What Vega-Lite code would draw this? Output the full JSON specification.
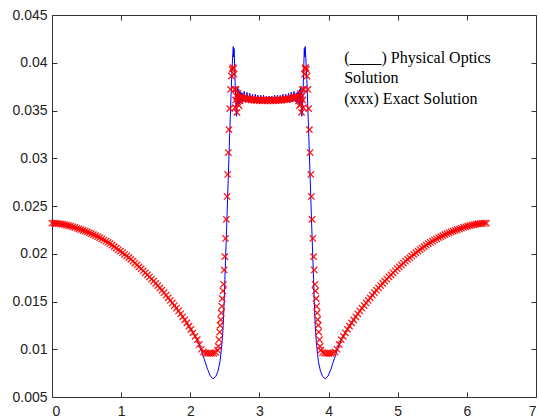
{
"$schema": "https://vega.github.io/schema/vega-lite/v6.json",
"width": 484, "height": 382,
"autosize": {"type": "none"},
"padding": {"left": 52, "top": 15, "right": 3, "bottom": 21},
"background": "white",
"config": {"view": {"stroke": null}, "axis": {"grid": false, "domainColor": "#333", "tickColor": "#333", "labelColor": "#222", "labelFont": "Liberation Sans", "labelFontSize": 14, "domainWidth": 1, "tickWidth": 1}},
"datasets": {
"po": [
{"x":0,"y":0.0232},{"x":0.1,"y":0.02315},{"x":0.2,"y":0.02302},{"x":0.3,"y":0.02282},{"x":0.4,"y":0.02257},{"x":0.5,"y":0.02232},{"x":0.6,"y":0.022},{"x":0.7,"y":0.02165},{"x":0.8,"y":0.02123},{"x":0.9,"y":0.02075},{"x":1.0,"y":0.02022},{"x":1.1,"y":0.01965},{"x":1.2,"y":0.01903},{"x":1.3,"y":0.01836},{"x":1.4,"y":0.01765},{"x":1.5,"y":0.0169},{"x":1.6,"y":0.0161},{"x":1.7,"y":0.0152},{"x":1.8,"y":0.0143},{"x":1.9,"y":0.0133},{"x":2.0,"y":0.0122},{"x":2.05,"y":0.0116},{"x":2.1,"y":0.011},{"x":2.15,"y":0.0101},{"x":2.2,"y":0.009},{"x":2.25,"y":0.0079},{"x":2.29,"y":0.0072},{"x":2.33,"y":0.0069},{"x":2.37,"y":0.00715},{"x":2.4,"y":0.0077},{"x":2.43,"y":0.0087},{"x":2.45,"y":0.01},{"x":2.465,"y":0.0112},{"x":2.476,"y":0.0125},{"x":2.49,"y":0.015},{"x":2.5,"y":0.0173},{"x":2.525,"y":0.0225},{"x":2.548,"y":0.0277},{"x":2.572,"y":0.033},{"x":2.597,"y":0.0382},{"x":2.612,"y":0.0405},{"x":2.622,"y":0.0417},{"x":2.628,"y":0.0406},{"x":2.634,"y":0.0415},{"x":2.642,"y":0.0395},{"x":2.652,"y":0.037},{"x":2.662,"y":0.035},{"x":2.67,"y":0.0344},{"x":2.678,"y":0.0362},{"x":2.686,"y":0.0374},{"x":2.694,"y":0.0356},{"x":2.702,"y":0.0372},{"x":2.71,"y":0.0357},{"x":2.718,"y":0.037},{"x":2.726,"y":0.0358},{"x":2.734,"y":0.0369},{"x":2.742,"y":0.0359},{"x":2.75,"y":0.0368},
{"x":2.76,"y":0.0359},{"x":2.78,"y":0.037},{"x":2.8,"y":0.0359},{"x":2.82,"y":0.0369},{"x":2.84,"y":0.0358},{"x":2.86,"y":0.0368},{"x":2.88,"y":0.0359},{"x":2.9,"y":0.0367},{"x":2.92,"y":0.0358},{"x":2.94,"y":0.0367},{"x":2.96,"y":0.0359},{"x":2.98,"y":0.0366},{"x":3.0,"y":0.0358},{"x":3.02,"y":0.0366},{"x":3.04,"y":0.0359},{"x":3.06,"y":0.0366},{"x":3.08,"y":0.0358},{"x":3.1,"y":0.0365},{"x":3.12,"y":0.0359},{"x":3.14,"y":0.0365},{"x":3.16,"y":0.0359},{"x":3.18,"y":0.0365},{"x":3.2,"y":0.0358},{"x":3.22,"y":0.0366},{"x":3.24,"y":0.0359},{"x":3.26,"y":0.0366},{"x":3.28,"y":0.0358},{"x":3.3,"y":0.0366},{"x":3.32,"y":0.0359},{"x":3.34,"y":0.0367},{"x":3.36,"y":0.0358},{"x":3.38,"y":0.0367},{"x":3.4,"y":0.0359},{"x":3.42,"y":0.0368},{"x":3.44,"y":0.0358},{"x":3.46,"y":0.0369},{"x":3.48,"y":0.0359},{"x":3.5,"y":0.037},{"x":3.52,"y":0.0359},
{"x":3.533,"y":0.0368},{"x":3.541,"y":0.0359},{"x":3.549,"y":0.0369},{"x":3.557,"y":0.0358},{"x":3.565,"y":0.037},{"x":3.573,"y":0.0357},{"x":3.581,"y":0.0372},{"x":3.589,"y":0.0356},{"x":3.597,"y":0.0374},{"x":3.605,"y":0.0362},{"x":3.613,"y":0.0344},{"x":3.621,"y":0.035},{"x":3.631,"y":0.037},{"x":3.641,"y":0.0395},{"x":3.649,"y":0.0415},{"x":3.655,"y":0.0406},{"x":3.661,"y":0.0417},{"x":3.671,"y":0.0405},{"x":3.686,"y":0.0382},{"x":3.711,"y":0.033},{"x":3.735,"y":0.0277},{"x":3.758,"y":0.0225},{"x":3.783,"y":0.0173},{"x":3.793,"y":0.015},{"x":3.807,"y":0.0125},{"x":3.818,"y":0.0112},{"x":3.833,"y":0.01},{"x":3.853,"y":0.0087},{"x":3.883,"y":0.0077},{"x":3.913,"y":0.00715},{"x":3.953,"y":0.0069},{"x":3.993,"y":0.0072},{"x":4.033,"y":0.0079},{"x":4.083,"y":0.009},{"x":4.133,"y":0.0101},{"x":4.183,"y":0.011},{"x":4.233,"y":0.0116},{"x":4.283,"y":0.0122},{"x":4.383,"y":0.0133},{"x":4.483,"y":0.0143},{"x":4.583,"y":0.0152},{"x":4.683,"y":0.0161},{"x":4.783,"y":0.0169},{"x":4.883,"y":0.01765},{"x":4.983,"y":0.01836},{"x":5.083,"y":0.01903},{"x":5.183,"y":0.01965},{"x":5.283,"y":0.02022},{"x":5.383,"y":0.02075},{"x":5.483,"y":0.02123},{"x":5.583,"y":0.02165},{"x":5.683,"y":0.022},{"x":5.783,"y":0.02232},{"x":5.883,"y":0.02257},{"x":5.983,"y":0.02282},{"x":6.083,"y":0.02302},{"x":6.183,"y":0.02315},{"x":6.283,"y":0.0232}
],
"exact": [
{"x":0,"y":0.0232},{"x":0.03,"y":0.0232},{"x":0.06,"y":0.02318},{"x":0.09,"y":0.02316},{"x":0.12,"y":0.02313},{"x":0.15,"y":0.0231},{"x":0.18,"y":0.02305},{"x":0.21,"y":0.023},{"x":0.24,"y":0.02295},{"x":0.27,"y":0.02289},{"x":0.3,"y":0.02282},{"x":0.33,"y":0.02275},{"x":0.36,"y":0.02267},{"x":0.39,"y":0.0226},{"x":0.42,"y":0.02252},{"x":0.45,"y":0.02245},{"x":0.48,"y":0.02237},{"x":0.51,"y":0.02229},{"x":0.54,"y":0.02219},{"x":0.57,"y":0.0221},{"x":0.6,"y":0.022},{"x":0.63,"y":0.0219},{"x":0.66,"y":0.02179},{"x":0.69,"y":0.02169},{"x":0.72,"y":0.02157},{"x":0.75,"y":0.02144},{"x":0.78,"y":0.02131},{"x":0.81,"y":0.02118},{"x":0.84,"y":0.02105},{"x":0.87,"y":0.0209},{"x":0.9,"y":0.02075},{"x":0.93,"y":0.02059},{"x":0.96,"y":0.02044},{"x":0.99,"y":0.02027},{"x":1.02,"y":0.02011},{"x":1.05,"y":0.01994},{"x":1.08,"y":0.01977},{"x":1.11,"y":0.01959},{"x":1.14,"y":0.01941},{"x":1.17,"y":0.01922},{"x":1.2,"y":0.01903},{"x":1.23,"y":0.01883},{"x":1.26,"y":0.01863},{"x":1.29,"y":0.01843},{"x":1.32,"y":0.01822},{"x":1.35,"y":0.01801},{"x":1.38,"y":0.01779},{"x":1.41,"y":0.01758},{"x":1.44,"y":0.01735},{"x":1.47,"y":0.01713},{"x":1.5,"y":0.0169},{"x":1.53,"y":0.01667},{"x":1.56,"y":0.01643},{"x":1.59,"y":0.01618},{"x":1.62,"y":0.01592},{"x":1.65,"y":0.01566},{"x":1.68,"y":0.01538},{"x":1.71,"y":0.01511},{"x":1.74,"y":0.01485},{"x":1.77,"y":0.01458},{"x":1.8,"y":0.0143},{"x":1.83,"y":0.01401},{"x":1.86,"y":0.01371},{"x":1.89,"y":0.0134},{"x":1.92,"y":0.01308},{"x":1.95,"y":0.01276},{"x":1.98,"y":0.01242},{"x":2.01,"y":0.01208},{"x":2.04,"y":0.01172},{"x":2.07,"y":0.01136},{"x":2.1,"y":0.011},{"x":2.13,"y":0.0105},{"x":2.16,"y":0.01},{"x":2.19,"y":0.00972},{"x":2.22,"y":0.00962},{"x":2.25,"y":0.00958},{"x":2.28,"y":0.00957},{"x":2.31,"y":0.00958},{"x":2.34,"y":0.0096},{"x":2.37,"y":0.00966},
{"x":2.395,"y":0.0099},{"x":2.405,"y":0.0103},{"x":2.415,"y":0.011},{"x":2.425,"y":0.0118},{"x":2.432,"y":0.0125},{"x":2.44,"y":0.0131},{"x":2.448,"y":0.0138},{"x":2.455,"y":0.0145},{"x":2.463,"y":0.0153},{"x":2.472,"y":0.0161},{"x":2.48,"y":0.0168},{"x":2.49,"y":0.0183},{"x":2.5,"y":0.0197},{"x":2.51,"y":0.0216},{"x":2.522,"y":0.0236},{"x":2.532,"y":0.026},{"x":2.54,"y":0.0283},{"x":2.55,"y":0.0306},{"x":2.56,"y":0.033},{"x":2.57,"y":0.0352},{"x":2.582,"y":0.0372},{"x":2.595,"y":0.0386},{"x":2.605,"y":0.0393},{"x":2.615,"y":0.0395},{"x":2.625,"y":0.0394},{"x":2.632,"y":0.0388},{"x":2.64,"y":0.0372},{"x":2.648,"y":0.0353},{"x":2.655,"y":0.0361},{"x":2.662,"y":0.0372},{"x":2.668,"y":0.0365},{"x":2.675,"y":0.0348},{"x":2.682,"y":0.0357},{"x":2.69,"y":0.0368},{"x":2.698,"y":0.0362},{"x":2.705,"y":0.0355},{"x":2.712,"y":0.0365},{"x":2.72,"y":0.036},
{"x":2.74,"y":0.0364},{"x":2.76,"y":0.03628},{"x":2.78,"y":0.03633},{"x":2.8,"y":0.0362},{"x":2.82,"y":0.03626},{"x":2.84,"y":0.03614},{"x":2.86,"y":0.03621},{"x":2.88,"y":0.0361},{"x":2.9,"y":0.03617},{"x":2.92,"y":0.03606},{"x":2.94,"y":0.03615},{"x":2.96,"y":0.03604},{"x":2.98,"y":0.03613},{"x":3.0,"y":0.03603},{"x":3.02,"y":0.03612},{"x":3.04,"y":0.03602},{"x":3.06,"y":0.03611},{"x":3.08,"y":0.03602},{"x":3.1,"y":0.03611},{"x":3.12,"y":0.03602},{"x":3.14,"y":0.03611},{"x":3.16,"y":0.03602},{"x":3.18,"y":0.03611},{"x":3.2,"y":0.03602},{"x":3.22,"y":0.03612},{"x":3.24,"y":0.03603},{"x":3.26,"y":0.03613},{"x":3.28,"y":0.03604},{"x":3.3,"y":0.03615},{"x":3.32,"y":0.03606},{"x":3.34,"y":0.03617},{"x":3.36,"y":0.0361},{"x":3.38,"y":0.03621},{"x":3.4,"y":0.03614},{"x":3.42,"y":0.03626},{"x":3.44,"y":0.0362},{"x":3.46,"y":0.03633},{"x":3.48,"y":0.03628},{"x":3.5,"y":0.0364},{"x":3.52,"y":0.03636},{"x":3.54,"y":0.03645},
{"x":3.563,"y":0.036},{"x":3.571,"y":0.0365},{"x":3.578,"y":0.0355},{"x":3.585,"y":0.0362},{"x":3.593,"y":0.0368},{"x":3.601,"y":0.0357},{"x":3.608,"y":0.0348},{"x":3.615,"y":0.0365},{"x":3.621,"y":0.0372},{"x":3.628,"y":0.0361},{"x":3.635,"y":0.0353},{"x":3.643,"y":0.0372},{"x":3.651,"y":0.0388},{"x":3.658,"y":0.0394},{"x":3.668,"y":0.0395},{"x":3.678,"y":0.0393},{"x":3.688,"y":0.0386},{"x":3.701,"y":0.0372},{"x":3.713,"y":0.0352},{"x":3.723,"y":0.033},{"x":3.733,"y":0.0306},{"x":3.743,"y":0.0283},{"x":3.751,"y":0.026},{"x":3.761,"y":0.0236},{"x":3.773,"y":0.0216},{"x":3.783,"y":0.0197},{"x":3.793,"y":0.0183},{"x":3.803,"y":0.0168},{"x":3.811,"y":0.0161},{"x":3.82,"y":0.0153},{"x":3.828,"y":0.0145},{"x":3.835,"y":0.0138},{"x":3.843,"y":0.0131},{"x":3.851,"y":0.0125},{"x":3.858,"y":0.0118},{"x":3.868,"y":0.011},{"x":3.878,"y":0.0103},{"x":3.888,"y":0.0099},
{"x":3.913,"y":0.00966},{"x":3.943,"y":0.0096},{"x":3.973,"y":0.00958},{"x":4.003,"y":0.00957},{"x":4.033,"y":0.00958},{"x":4.063,"y":0.00962},{"x":4.093,"y":0.00972},{"x":4.123,"y":0.01},{"x":4.153,"y":0.0105},{"x":4.183,"y":0.011},{"x":4.213,"y":0.01136},{"x":4.243,"y":0.01172},{"x":4.273,"y":0.01208},{"x":4.303,"y":0.01242},{"x":4.333,"y":0.01276},{"x":4.363,"y":0.01308},{"x":4.393,"y":0.0134},{"x":4.423,"y":0.01371},{"x":4.453,"y":0.01401},{"x":4.483,"y":0.0143},{"x":4.513,"y":0.01458},{"x":4.543,"y":0.01485},{"x":4.573,"y":0.01511},{"x":4.603,"y":0.01538},{"x":4.633,"y":0.01566},{"x":4.663,"y":0.01592},{"x":4.693,"y":0.01618},{"x":4.723,"y":0.01643},{"x":4.753,"y":0.01667},{"x":4.783,"y":0.0169},{"x":4.813,"y":0.01713},{"x":4.843,"y":0.01735},{"x":4.873,"y":0.01758},{"x":4.903,"y":0.01779},{"x":4.933,"y":0.01801},{"x":4.963,"y":0.01822},{"x":4.993,"y":0.01843},{"x":5.023,"y":0.01863},{"x":5.053,"y":0.01883},{"x":5.083,"y":0.01903},{"x":5.113,"y":0.01922},{"x":5.143,"y":0.01941},{"x":5.173,"y":0.01959},{"x":5.203,"y":0.01977},{"x":5.233,"y":0.01994},{"x":5.263,"y":0.02011},{"x":5.293,"y":0.02027},{"x":5.323,"y":0.02044},{"x":5.353,"y":0.02059},{"x":5.383,"y":0.02075},{"x":5.413,"y":0.0209},{"x":5.443,"y":0.02105},{"x":5.473,"y":0.02118},{"x":5.503,"y":0.02131},{"x":5.533,"y":0.02144},{"x":5.563,"y":0.02157},{"x":5.593,"y":0.02169},{"x":5.623,"y":0.02179},{"x":5.653,"y":0.0219},{"x":5.683,"y":0.022},{"x":5.713,"y":0.0221},{"x":5.743,"y":0.02219},{"x":5.773,"y":0.02229},{"x":5.803,"y":0.02237},{"x":5.833,"y":0.02245},{"x":5.863,"y":0.02252},{"x":5.893,"y":0.0226},{"x":5.923,"y":0.02267},{"x":5.953,"y":0.02275},{"x":5.983,"y":0.02282},{"x":6.013,"y":0.02289},{"x":6.043,"y":0.02295},{"x":6.073,"y":0.023},{"x":6.103,"y":0.02305},{"x":6.133,"y":0.0231},{"x":6.163,"y":0.02313},{"x":6.193,"y":0.02316},{"x":6.223,"y":0.02318},{"x":6.253,"y":0.0232},{"x":6.283,"y":0.0232}
],
"note": [{"x": 4.226, "y": 0.0400, "label": "(____) Physical Optics\nSolution\n(xxx) Exact Solution"}]
},
"layer": [
{"data": {"name": "po"}, "mark": {"type": "line", "color": "#0000ff", "strokeWidth": 1, "clip": true},
 "encoding": {
  "x": {"field": "x", "type": "quantitative", "scale": {"domain": [0, 7], "nice": false, "zero": false}, "axis": {"orient": "bottom", "values": [0,1,2,3,4,5,6,7], "format": "d", "tickSize": -5, "labelPadding": 12, "title": null}},
  "y": {"field": "y", "type": "quantitative", "scale": {"domain": [0.005, 0.045], "nice": false, "zero": false}, "axis": {"orient": "left", "values": [0.005,0.01,0.015,0.02,0.025,0.03,0.035,0.04,0.045], "format": "~g", "tickSize": -5, "labelPadding": 10, "title": null}}
 }},
{"data": {"name": "exact"}, "mark": {"type": "point", "shape": "M-1,-1L1,1M-1,1L1,-1", "filled": false, "stroke": "#ff0000", "strokeWidth": 1.3, "size": 40, "opacity": 0.9},
 "encoding": {
  "x": {"field": "x", "type": "quantitative", "axis": {"orient": "top", "values": [0,1,2,3,4,5,6,7], "labels": false, "tickSize": -5, "title": null}},
  "y": {"field": "y", "type": "quantitative", "axis": {"orient": "right", "values": [0.005,0.01,0.015,0.02,0.025,0.03,0.035,0.04,0.045], "labels": false, "tickSize": -5, "title": null}}
 }},
{"data": {"name": "note"}, "mark": {"type": "text", "align": "left", "baseline": "alphabetic", "font": "Liberation Serif", "fontSize": 16, "lineHeight": 20.7, "lineBreak": "\n", "color": "#000"},
 "encoding": {
  "x": {"field": "x", "type": "quantitative", "axis": null},
  "y": {"field": "y", "type": "quantitative", "axis": null},
  "text": {"field": "label"}
 }}
],
"resolve": {"axis": {"x": "independent", "y": "independent"}}
}
